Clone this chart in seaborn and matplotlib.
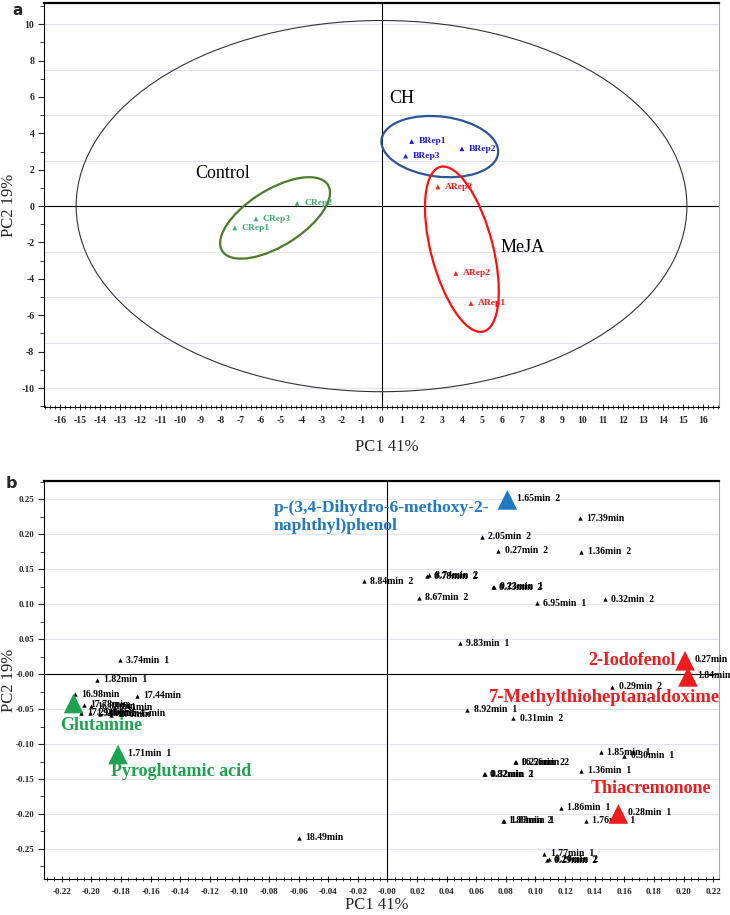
import numpy as np
import pandas as pd
import matplotlib
matplotlib.use('Agg')
import matplotlib.pyplot as plt
from matplotlib.patches import Ellipse
from matplotlib.ticker import MultipleLocator
import seaborn as sns

# ---- panel a: PCA scores ----
score_sample = ['CRep1', 'CRep2', 'CRep3', 'BRep1', 'BRep2', 'BRep3', 'ARep1', 'ARep2', 'ARep3']
score_group = ['Control'] * 3 + ['CH'] * 3 + ['MeJA'] * 3
score_pc1 = [-7.3, -4.2, -6.25, 1.5, 4.0, 1.2, 4.45, 3.7, 2.8]
score_pc2 = [-1.2, 0.15, -0.7, 3.55, 3.15, 2.75, -5.35, -3.7, 1.05]

# group confidence ellipses
ell_group = ['Control', 'CH', 'MeJA']
ell_pc1 = [-5.3, 2.9, 4.0]
ell_pc2 = [-0.65, 3.27, -2.37]
ell_width = [6.4, 5.85, 9.3]
ell_height = [3.0, 3.3, 3.1]
ell_angle = [36, -8, 103]

# Hotelling T2 ellipse (semi axes)
t2_pc1 = 15.2
t2_pc2 = 10.2

# ---- panel b: loadings ----
load_label = ['17.39min', '2.05min  2', '0.27min  2', '1.36min  2', '0.78min  2', '8.74min  2',
              '8.84min  2', '0.33min  2', '0.23min  1', '8.67min  2', '0.32min  2', '6.95min  1',
              '9.83min  1', '3.74min  1', '1.82min  1', '16.98min', '17.44min',
              '17.78min', '16.08min', '17.21min', '1.94min', '2.01min', '1.76min', '16.45min', '7.41min',
              '0.29min  2', '8.92min  1', '0.31min  2', '1.85min  1', '0.30min  1', '16.56min  2',
              '0.22min  2', '1.36min  1', '0.82min  2', '0.32min  1', '1.86min  1', '1.89min  2',
              '1.83min  1', '1.76min  1', '18.49min', '1.77min  1', '0.29min  2', '0.20min  2']
load_pc1 = [0.130, 0.064, 0.075, 0.131, 0.027, 0.028,
            -0.016, 0.071, 0.072, 0.021, 0.147, 0.101,
            0.049, -0.181, -0.196, -0.211, -0.169,
            -0.205, -0.200, -0.207, -0.201, -0.194, -0.187, -0.180, -0.185,
            0.152, 0.054, 0.085, 0.144, 0.160, 0.086,
            0.087, 0.131, 0.065, 0.066, 0.117, 0.078,
            0.079, 0.134, -0.060, 0.106, 0.108, 0.109]
load_pc2 = [0.223, 0.196, 0.176, 0.175, 0.140, 0.141,
            0.133, 0.124, 0.125, 0.109, 0.107, 0.101,
            0.044, 0.020, -0.008, -0.029, -0.031,
            -0.044, -0.046, -0.055, -0.056, -0.057, -0.058, -0.057, -0.048,
            -0.018, -0.051, -0.063, -0.112, -0.117, -0.126,
            -0.126, -0.138, -0.143, -0.143, -0.191, -0.210,
            -0.210, -0.210, -0.234, -0.257, -0.266, -0.265]

hl_name = ['p-(3,4-Dihydro-6-methoxy-2-\nnaphthyl)phenol', 'Glutamine', 'Pyroglutamic acid',
           '2-Iodofenol', '7-Methylthioheptanaldoxime', 'Thiacremonone']
hl_rt = ['1.65min  2', '', '1.71min  1', '0.27min', '1.84min', '0.28min  1']
hl_pc1 = [0.081, -0.212, -0.182, 0.201, 0.203, 0.156]
hl_pc2 = [0.249, -0.042, -0.115, 0.019, -0.004, -0.200]
hl_color = ['#1f78c1', '#1fa24e', '#1fa24e', '#ee1c1c', '#ee1c1c', '#ee1c1c']

# style
sns.set_style('white')
plt.rcParams['font.family'] = ['Liberation Serif', 'DejaVu Serif']
plt.rcParams['axes.linewidth'] = 0.8

fig = plt.figure(figsize=(7.3, 9.15), dpi=100)
ax1 = fig.add_axes([0.0603, 0.555, 0.9247, 0.4415])
ax2 = fig.add_axes([0.0603, 0.0393, 0.9247, 0.435])

grid_col = '#e3e3ee'


def style_axes(ax):
    ax.spines['top'].set_color('black')
    ax.spines['top'].set_linewidth(1.6)
    ax.spines['right'].set_color('#aaaaaa')
    ax.spines['left'].set_color('black')
    ax.spines['bottom'].set_color('black')
    ax.tick_params(axis='x', which='major', direction='inout', length=5, width=0.8, pad=4)
    ax.tick_params(axis='x', which='minor', direction='inout', length=3, width=0.6)
    ax.tick_params(axis='y', which='major', direction='out', length=4, width=0.8, pad=3)
    ax.tick_params(axis='y', which='minor', direction='out', length=3, width=0.6)
    ax.tick_params(left=True, bottom=True, top=False, right=False)
    ax.tick_params(which='minor', left=True, bottom=True, top=False, right=False)


# ================= panel a =================
df_a = pd.DataFrame({'sample': score_sample, 'group': score_group,
                     'pc1': score_pc1, 'pc2': score_pc2})
pt_col = {'Control': '#3dae72', 'CH': '#1c1ce0', 'MeJA': '#ff1a1a'}
ell_col = {'Control': '#4b7c2a', 'CH': '#2c5597', 'MeJA': '#ff1010'}

for v in np.arange(-10, 10.1, 2.5):
    ax1.axhline(v, color=grid_col, lw=0.8, zorder=0)
ax1.axhline(0, color='black', lw=0.8, zorder=1)
ax1.axvline(0, color='black', lw=0.8, zorder=1)

ax1.add_patch(Ellipse((0, 0), 2 * t2_pc1, 2 * t2_pc2, fill=False, ec='#333333', lw=0.8, zorder=2))
for g, cx, cy, w, h, a in zip(ell_group, ell_pc1, ell_pc2, ell_width, ell_height, ell_angle):
    ax1.add_patch(Ellipse((cx, cy), w, h, angle=a, fill=False, ec=ell_col[g], lw=1.6, zorder=3))

sns.scatterplot(data=df_a, x='pc1', y='pc2', hue='group', palette=pt_col, marker='^',
                s=12, linewidth=0, legend=False, ax=ax1, zorder=4)
for _, r in df_a.iterrows():
    ax1.annotate(r['sample'], (r['pc1'], r['pc2']), xytext=(5, 0), textcoords='offset points',
                 va='center', fontsize=6.8, fontweight='bold', color=pt_col[r['group']])

group_text = {'Control': (-7.9, 1.8), 'CH': (1.0, 5.9), 'MeJA': (7.0, -2.3)}
for g, (tx, ty) in group_text.items():
    ax1.text(tx, ty, g, fontsize=13, ha='center', va='center', color='black')

ax1.set_xlim(-16.8, 16.8)
ax1.set_ylim(-11.05, 11.15)
xt = np.arange(-16, 17, 1)
ax1.set_xticks(xt)
ax1.set_xticklabels([str(v) for v in xt], fontsize=7, fontweight='bold')
yt = np.arange(-10, 11, 2)
ax1.set_yticks(yt)
ax1.set_yticklabels([str(v) for v in yt], fontsize=7, fontweight='bold')
ax1.xaxis.set_minor_locator(MultipleLocator(0.25))
ax1.yaxis.set_minor_locator(MultipleLocator(1))
style_axes(ax1)
ax1.set_xlabel('PC1 41%', fontsize=12)
ax1.set_ylabel('PC2 19%', fontsize=12)
ax1.xaxis.set_label_coords(0.508, -0.08)
ax1.yaxis.set_label_coords(-0.04, 0.5)

# ================= panel b =================
df_b = pd.DataFrame({'label': load_label, 'pc1': load_pc1, 'pc2': load_pc2})
df_hl = pd.DataFrame({'name': hl_name, 'rt': hl_rt, 'pc1': hl_pc1, 'pc2': hl_pc2, 'color': hl_color})

for v in np.arange(-0.25, 0.26, 0.05):
    ax2.axhline(v, color=grid_col, lw=0.8, zorder=0)
ax2.axhline(0, color='black', lw=0.8, zorder=1)
ax2.axvline(0, color='black', lw=0.8, zorder=1)

sns.scatterplot(data=df_b, x='pc1', y='pc2', color='black', marker='^', s=10,
                linewidth=0, legend=False, ax=ax2, zorder=4)
for _, r in df_b.iterrows():
    ax2.annotate(r['label'], (r['pc1'], r['pc2']), xytext=(4.5, 0), textcoords='offset points',
                 va='center', fontsize=7, fontweight='bold', color='black')

sns.scatterplot(data=df_hl, x='pc1', y='pc2', hue='name',
                palette=dict(zip(hl_name, hl_color)), marker='^', s=200,
                linewidth=0, legend=False, ax=ax2, zorder=5)

# name label placement: offset in points, horizontal alignment, font size
name_off = [(-13, -12.5, 'right', 12.6), (-9.5, -16, 'left', 13), (-5, -12, 'left', 13),
            (-7, 0, 'right', 13), (23, -15, 'right', 13.4), (67, 18, 'right', 13)]
for (_, r), (dx, dy, ha, fs) in zip(df_hl.iterrows(), name_off):
    if r['rt']:
        ax2.annotate(r['rt'], (r['pc1'], r['pc2']), xytext=(7, 1), textcoords='offset points',
                     va='center', fontsize=7, fontweight='bold', color='black')
    ax2.annotate(r['name'], (r['pc1'], r['pc2']), xytext=(dx, dy), textcoords='offset points',
                 ha=ha, va='center', multialignment='left', fontsize=fs,
                 fontweight='bold', color=r['color'], linespacing=1.15)

ax2.set_xlim(-0.232, 0.224)
ax2.set_ylim(-0.293, 0.276)
xt2 = np.round(np.arange(-0.22, 0.221, 0.02), 2)
ax2.set_xticks(xt2)
ax2.set_xticklabels(['-0.00' if abs(v) < 1e-9 else f'{v:.2f}' for v in xt2],
                    fontsize=6.5, fontweight='bold')
yt2 = np.round(np.arange(-0.25, 0.251, 0.05), 2)
ax2.set_yticks(yt2)
ax2.set_yticklabels(['-0.00' if abs(v) < 1e-9 else f'{v:.2f}' for v in yt2],
                    fontsize=6.5, fontweight='bold')
ax2.xaxis.set_minor_locator(MultipleLocator(0.005))
ax2.yaxis.set_minor_locator(MultipleLocator(0.025))
style_axes(ax2)
ax2.set_xlabel('PC1 41%', fontsize=12)
ax2.set_ylabel('PC2 19%', fontsize=12)
ax2.xaxis.set_label_coords(0.493, -0.045)
ax2.yaxis.set_label_coords(-0.04, 0.5)

fig.text(0.017, 0.997, 'a', fontsize=11, fontweight='bold', family='DejaVu Sans', va='top')
fig.text(0.008, 0.472, 'b', fontsize=11.5, fontweight='bold', family='DejaVu Sans', va='center')

fig.savefig('out.png', dpi=100)
